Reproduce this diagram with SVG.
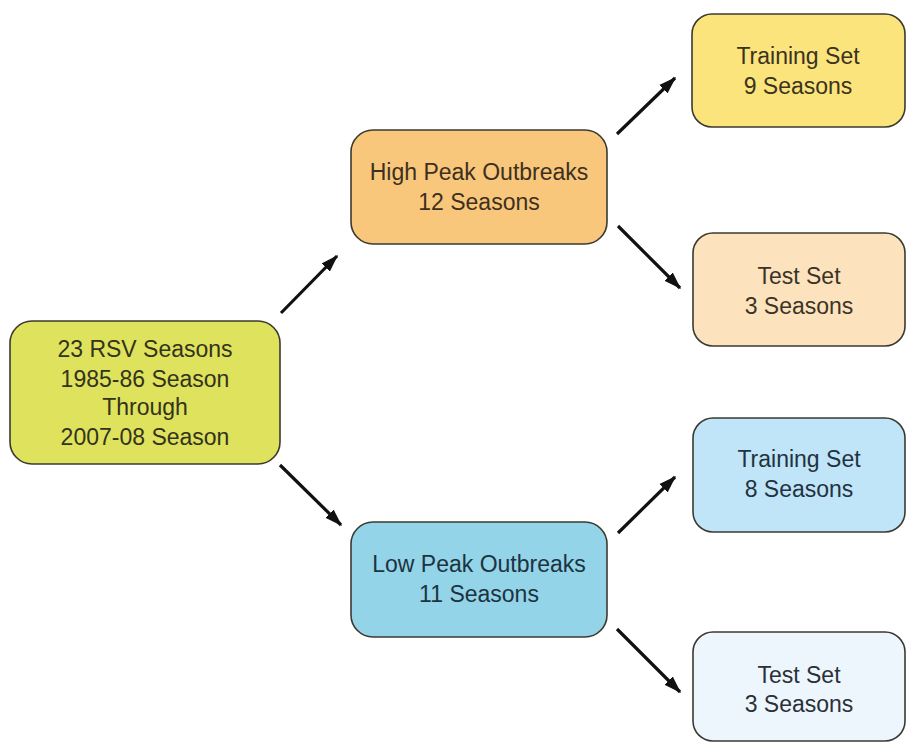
<svg xmlns="http://www.w3.org/2000/svg" width="906" height="742" viewBox="0 0 906 742">
<defs>
<marker id="ah" viewBox="0 0 12 10" refX="11" refY="5" markerWidth="5.5" markerHeight="4.6" markerUnits="strokeWidth" orient="auto">
<path d="M0,1 L12,5 L0,9 Z" fill="#111"/>
</marker>
<style>
.box{stroke:#3b3a30;stroke-width:1.6}
.t{font-family:"Liberation Sans","Open Sans",Arial,sans-serif;font-size:23px;text-anchor:middle}
.c{stroke:#111;stroke-width:3.2;fill:none;marker-end:url(#ah)}
</style>
</defs>
<rect width="906" height="742" fill="#fff"/>
<g id="connectors">
<line class="c" x1="281" y1="313" x2="337" y2="256"/>
<line class="c" x1="280" y1="465" x2="341" y2="525"/>
<line class="c" x1="617" y1="134" x2="675" y2="78"/>
<line class="c" x1="618" y1="226" x2="680" y2="288"/>
<line class="c" x1="618" y1="533" x2="675" y2="477"/>
<line class="c" x1="617" y1="629" x2="680" y2="692"/>
</g>
<g id="root">
<rect class="box" x="10" y="321" width="270" height="143" rx="22" fill="#dfe25c"/>
<text class="t" fill="#33331c"><tspan x="145" y="357">23 RSV Seasons</tspan><tspan x="145" y="387">1985-86 Season</tspan><tspan x="145" y="415">Through</tspan><tspan x="145" y="445">2007-08 Season</tspan></text>
</g>
<g id="high">
<rect class="box" x="351" y="130" width="256" height="114" rx="22" fill="#f8c77b"/>
<text class="t" fill="#3d3020"><tspan x="479" y="180">High Peak Outbreaks</tspan><tspan x="479" y="210">12 Seasons</tspan></text>
</g>
<g id="low">
<rect class="box" x="351" y="522" width="256" height="115" rx="22" fill="#93d4e9"/>
<text class="t" fill="#1c3340"><tspan x="479" y="572">Low Peak Outbreaks</tspan><tspan x="479" y="602">11 Seasons</tspan></text>
</g>
<g id="train9">
<rect class="box" x="692" y="14" width="213" height="113" rx="20" fill="#fce47c"/>
<text class="t" fill="#3a3320"><tspan x="798" y="64">Training Set</tspan><tspan x="798" y="94">9 Seasons</tspan></text>
</g>
<g id="test1">
<rect class="box" x="693" y="233" width="212" height="113" rx="20" fill="#fde3bd"/>
<text class="t" fill="#3a3328"><tspan x="799" y="284">Test Set</tspan><tspan x="799" y="314">3 Seasons</tspan></text>
</g>
<g id="train8">
<rect class="box" x="693" y="418" width="212" height="114" rx="20" fill="#c0e4f8"/>
<text class="t" fill="#1f3340"><tspan x="799" y="467">Training Set</tspan><tspan x="799" y="497">8 Seasons</tspan></text>
</g>
<g id="test2">
<rect class="box" x="693" y="632" width="212" height="109" rx="20" fill="#eef6fd"/>
<text class="t" fill="#2a3038"><tspan x="799" y="683">Test Set</tspan><tspan x="799" y="712">3 Seasons</tspan></text>
</g>
</svg>
